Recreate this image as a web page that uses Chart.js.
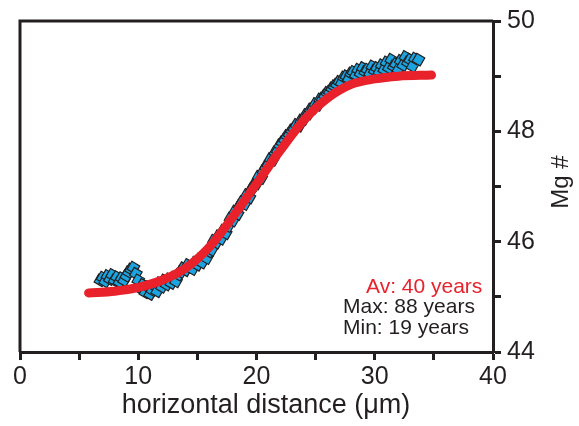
<!DOCTYPE html>
<html>
<head>
<meta charset="utf-8">
<script src="https://cdn.jsdelivr.net/npm/chart.js@4"></script>
<style>
  html,body{margin:0;padding:0;background:#fff;}
  #wrap{width:579px;height:426px;}
</style>
</head>
<body>
<div id="wrap"><canvas id="chart" width="579" height="426"></canvas></div>
<script>
// measured profile (diamonds)
const distX = [6.8,7.0,7.2,7.4,7.6,7.8,8.0,8.2,8.4,8.6,8.8,9.0,9.2,9.4,9.6,9.8,10.0,10.2,10.4,10.6,10.8,11.0,11.2,11.4,11.6,11.8,12.0,12.2,12.4,12.6,12.8,13.0,13.2,13.4,13.6,13.8,14.0,14.2,14.4,14.6,14.8,15.0,15.2,15.4,15.6,15.8,16.0,16.2,16.4,16.6,16.8,17.0,17.2,17.4,17.6,17.8,18.0,18.2,18.4,18.6,18.8,19.0,19.2,19.4,19.6,19.8,20.0,20.2,20.4,20.6,20.8,21.0,21.2,21.4,21.6,21.8,22.0,22.2,22.4,22.6,22.8,23.0,23.2,23.4,23.6,23.8,24.0,24.2,24.4,24.6,24.8,25.0,25.2,25.4,25.6,25.8,26.0,26.2,26.4,26.6,26.8,27.0,27.2,27.4,27.6,27.8,28.0,28.2,28.4,28.6,28.8,29.0,29.2,29.4,29.6,29.8,30.0,30.2,30.4,30.6,30.8,31.0,31.2,31.4,31.6,31.8,32.0,32.2,32.4,32.6,32.8,33.0,33.2,33.4,33.7];
const mgMeasured = [45.30,45.35,45.28,45.38,45.32,45.40,45.30,45.36,45.27,45.34,45.30,45.38,45.45,45.50,45.53,45.42,45.30,45.15,45.22,45.08,45.18,45.05,45.12,45.20,45.10,45.25,45.18,45.30,45.22,45.32,45.25,45.35,45.28,45.40,45.45,45.52,45.48,45.58,45.55,45.50,45.62,45.58,45.68,45.62,45.75,45.70,45.82,45.85,46.02,45.98,46.10,46.05,46.20,46.15,46.28,46.42,46.38,46.55,46.50,46.65,46.72,46.68,46.85,46.80,46.95,47.02,47.05,47.18,47.15,47.28,47.35,47.40,47.50,47.48,47.62,47.65,47.75,47.80,47.85,47.92,47.95,48.02,48.05,48.12,48.10,48.20,48.22,48.30,48.32,48.40,48.42,48.50,48.48,48.58,48.60,48.65,48.70,48.72,48.78,48.82,48.85,48.90,48.88,48.98,49.00,48.95,49.05,49.08,49.02,49.12,49.05,49.15,49.08,49.12,49.05,49.18,49.10,49.15,49.08,49.20,49.12,49.25,49.15,49.30,49.18,49.22,49.12,49.28,49.20,49.35,49.25,49.30,49.18,49.32,49.30];

// diffusion model fit (red curve)
const fitX  = [5.8,8,10,12,14,16,18,20,22,24,26,28,30,32,34.8];
const fitMg = [45.07,45.10,45.17,45.30,45.52,45.90,46.45,47.05,47.65,48.20,48.60,48.85,48.95,49.00,49.02];

const xTicks = [0,10,20,30,40];
const yTicks = [44,46,48,50];
const notes = [
  {text:'Av: 40 years', color:'#e8212b'},
  {text:'Max: 88 years', color:'#231f20'},
  {text:'Min: 19 years', color:'#231f20'}
];

const INK = '#231f20';
const FONT = "'Liberation Sans', Arial, sans-serif";

const frame = {
  id:'frame',
  afterDraw(chart){
    const {ctx, chartArea:a} = chart;
    ctx.save();
    ctx.strokeStyle = INK; ctx.lineWidth = 3;
    ctx.beginPath();
    ctx.moveTo(a.left, a.bottom); ctx.lineTo(a.left, a.top); ctx.lineTo(a.right, a.top);
    ctx.stroke();
    ctx.fillStyle = INK;
    ctx.textAlign = 'center'; ctx.textBaseline = 'middle';
    // x title
    ctx.font = '27px ' + FONT;
    ctx.fillText('horizontal distance (μm)', 266, 406);
    // y title, reading bottom to top
    ctx.font = '24px ' + FONT;
    ctx.translate(561, 182); ctx.rotate(-Math.PI/2);
    ctx.fillText('Mg #', 0, 0);
    ctx.restore();
    // notes
    ctx.save();
    ctx.font = '21px ' + FONT;
    ctx.textBaseline = 'middle'; ctx.textAlign = 'left';
    ctx.fillStyle = notes[0].color;
    ctx.fillText(notes[0].text, 366, 287);
    ctx.fillStyle = notes[1].color;
    ctx.fillText(notes[1].text, 343, 307);
    ctx.fillStyle = notes[2].color;
    ctx.fillText(notes[2].text, 343, 328);
    ctx.restore();
  }
};

new Chart(document.getElementById('chart'), {
  type:'scatter',
  data:{
    datasets:[
      {
        type:'line',
        data: fitX.map((x,i)=>({x, y:fitMg[i]})),
        borderColor:'#e8212b', borderWidth:9, borderCapStyle:'round', borderJoinStyle:'round',
        cubicInterpolationMode:'monotone', pointRadius:0, fill:false, order:0
      },
      {
        data: distX.map((x,i)=>({x, y:mgMeasured[i]})),
        pointStyle:'rect', rotation:30, pointRadius:6.5,
        backgroundColor:'#1ca4e0', borderColor:'#231f20', borderWidth:1.2, order:1
      }
    ]
  },
  options:{
    responsive:false, animation:false,
    layout:{padding:{left:20, top:20, right:0, bottom:0}},
    plugins:{legend:{display:false}, tooltip:{enabled:false}},
    scales:{
      x:{
        type:'linear', min:0, max:40,
        afterFit(s){ s.height = 74; },
        afterBuildTicks(s){ s.ticks = [0,5,10,15,20,25,30,35,40].map(v=>({value:v})); },
        border:{color:INK, width:3},
        grid:{drawOnChartArea:false, tickLength:8, tickWidth:3, tickColor:INK},
        ticks:{color:INK, font:{family:FONT, size:25}, padding:2, maxRotation:0,
          callback:v=> xTicks.includes(v) ? v : ''}
      },
      y:{
        type:'linear', position:'right', min:44, max:50,
        afterFit(s){ s.width = 86; },
        afterBuildTicks(s){ s.ticks = [44,45,46,47,48,49,50].map(v=>({value:v})); },
        border:{color:INK, width:3},
        grid:{drawOnChartArea:false, tickLength:8, tickWidth:3, tickColor:INK},
        ticks:{color:INK, font:{family:FONT, size:25}, padding:6,
          callback:v=> yTicks.includes(v) ? v : ''}
      }
    }
  },
  plugins:[frame]
});
</script>
</body>
</html>
